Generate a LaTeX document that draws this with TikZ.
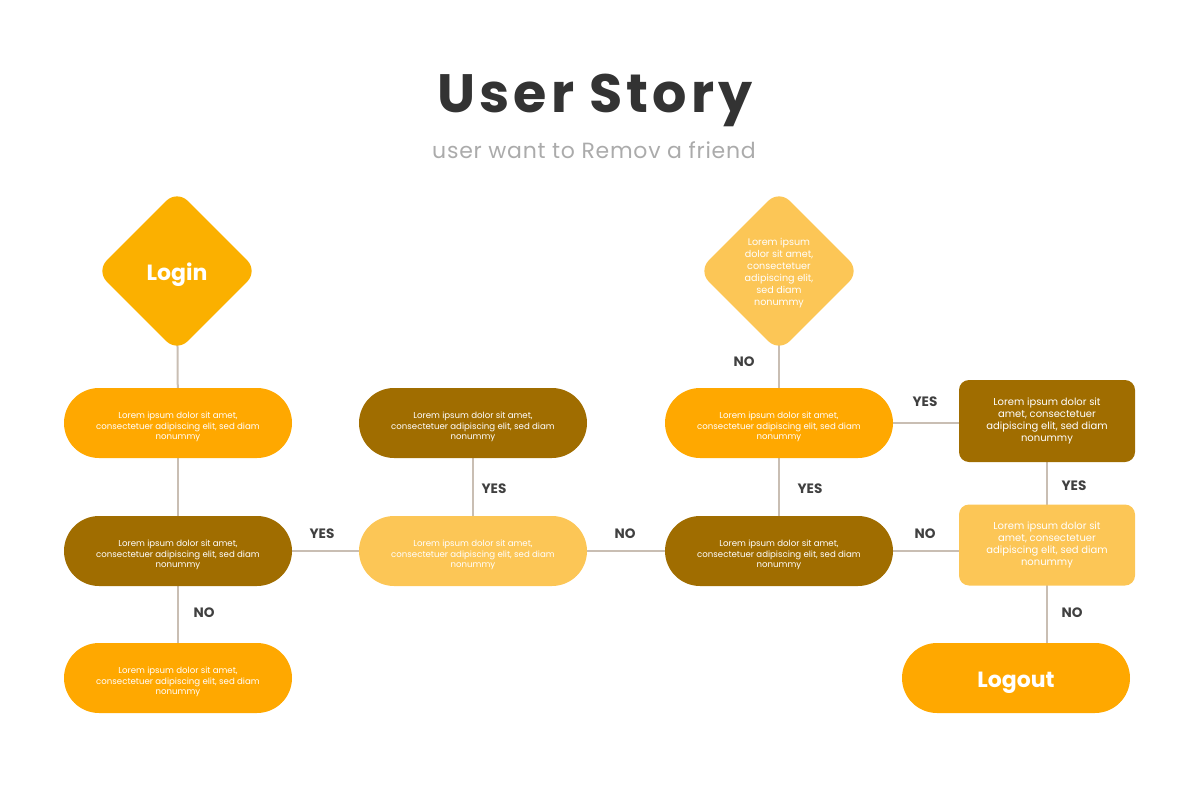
\documentclass[tikz,border=0pt]{standalone}
\usepackage{fontspec}
\setmainfont{Poppins}
\newfontfamily\titlefont[LetterSpace=7.5]{Poppins}
\newfontfamily\subfont[LetterSpace=3.3]{Poppins}
\usetikzlibrary{shapes.geometric,backgrounds}
\definecolor{cOrange}{HTML}{FFA800}
\definecolor{cLogin}{HTML}{FBB000}
\definecolor{cBrown}{HTML}{A06D00}
\definecolor{cLight}{HTML}{FCC656}
\definecolor{cLine}{HTML}{C9BEB3}
\definecolor{cLabel}{HTML}{404040}
\definecolor{cTitle}{HTML}{333333}
\definecolor{cSub}{HTML}{ABABAB}
\begin{document}
\begin{tikzpicture}[x=0.5pt,y=-0.5pt,
 pill/.style={rectangle, rounded corners=17.5pt, minimum width=114pt, minimum height=35pt, inner sep=0pt, align=center, text=white, font=\fontsize{4.3}{5.25}\selectfont, text height=17.5pt, text depth=1pt},
 boxnode/.style={rectangle, rounded corners=5pt, minimum width=88pt, minimum height=41pt, inner sep=0pt, align=center, text=white, font=\fontsize{5}{6}\selectfont},
 dia/.style={diamond, rounded corners=7.5pt, minimum width=81pt, minimum height=81pt, inner sep=0pt, align=center, text=white},
 bigtext/.style={font=\bfseries\fontsize{11}{13}\selectfont, text height=9pt, text depth=0pt},
 conn/.style={draw=cLine, line width=1pt},
 lbl/.style={text=cLabel, font=\bfseries\fontsize{6.8}{8}\selectfont},
]
\useasboundingbox (0,0) rectangle (1200,787);

\node[text=cTitle, font=\titlefont\bfseries\fontsize{27}{30}\selectfont] (title) at (595,100) {User Story};
\node[text=cSub, font=\subfont\fontsize{11}{13}\selectfont] (subtitle) at (594,150) {user want to Remov a friend};

\node[dia, fill=cLogin, bigtext] (login) at (177,271) {Login};
\node[dia, fill=cLight, font=\fontsize{4.8}{6}\selectfont, text height=35.5pt, text depth=1.2pt] (dq) at (779,271) {Lorem ipsum\\dolor sit amet,\\consectetuer\\adipiscing elit,\\sed diam\\nonummy};

\node[pill, fill=cOrange] (A) at (178,423) {Lorem ipsum dolor sit amet,\\consectetuer adipiscing elit, sed diam\\nonummy};
\node[pill, fill=cBrown] (B) at (473,423) {Lorem ipsum dolor sit amet,\\consectetuer adipiscing elit, sed diam\\nonummy};
\node[pill, fill=cOrange] (C) at (779,423) {Lorem ipsum dolor sit amet,\\consectetuer adipiscing elit, sed diam\\nonummy};
\node[boxnode, fill=cBrown] (D) at (1047,421) {Lorem ipsum dolor sit\\amet, consectetuer\\adipiscing elit, sed diam\\nonummy};

\node[pill, fill=cBrown] (E) at (178,551) {Lorem ipsum dolor sit amet,\\consectetuer adipiscing elit, sed diam\\nonummy};
\node[pill, fill=cLight] (F) at (473,551) {Lorem ipsum dolor sit amet,\\consectetuer adipiscing elit, sed diam\\nonummy};
\node[pill, fill=cBrown] (G) at (779,551) {Lorem ipsum dolor sit amet,\\consectetuer adipiscing elit, sed diam\\nonummy};
\node[boxnode, fill=cLight, minimum height=40.5pt] (H) at (1047,545) {Lorem ipsum dolor sit\\amet, consectetuer\\adipiscing elit, sed diam\\nonummy};

\node[pill, fill=cOrange] (I) at (178,678) {Lorem ipsum dolor sit amet,\\consectetuer adipiscing elit, sed diam\\nonummy};
\node[pill, fill=cOrange, bigtext] (logout) at (1016,678) {Logout};

\begin{pgfonlayer}{background}
\draw[conn] (login.center) -- (A.center);
\draw[conn] (A.center) -- (E.center);
\draw[conn] (E.center) -- (I.center);
\draw[conn] (E.center) -- (F.center);
\draw[conn] (F.center) -- (B.center);
\draw[conn] (F.center) -- (G.center);
\draw[conn] (G.center) -- (C.center);
\draw[conn] (dq.center) -- (C.center);
\draw[conn] (C.center) -- (C.center -| D.center);
\draw[conn] (D.center) -- (H.center);
\draw[conn] (G.center) -- (G.center -| H.center);
\draw[conn] (H.center) -- (H.center |- logout.center);
\end{pgfonlayer}

\node[lbl] (l1) at (322,534) {YES};
\node[lbl] (l2) at (494,489) {YES};
\node[lbl] (l3) at (625,534) {NO};
\node[lbl] (l4) at (204,613) {NO};
\node[lbl] (l5) at (810,489) {YES};
\node[lbl] (l6) at (744,362) {NO};
\node[lbl] (l7) at (925,402) {YES};
\node[lbl] (l8) at (1074,486) {YES};
\node[lbl] (l9) at (925,534) {NO};
\node[lbl] (l10) at (1072,613) {NO};
\end{tikzpicture}
\end{document}
